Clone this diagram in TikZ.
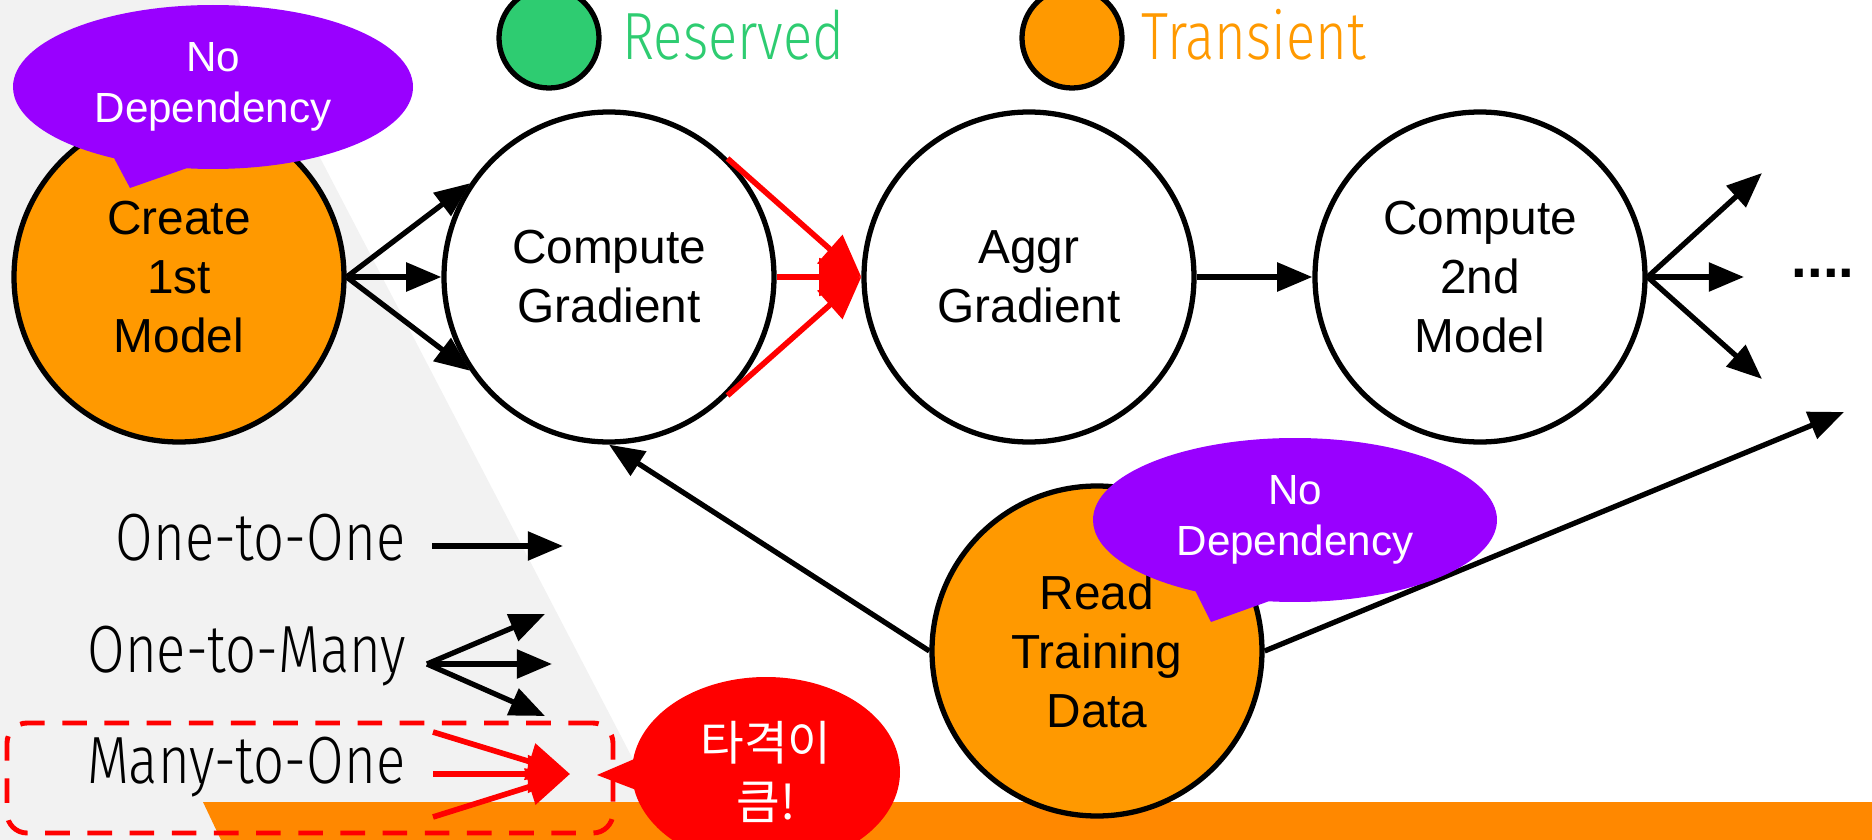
\documentclass[tikz,border=0pt]{standalone}
\usepackage{fontspec}
\setmainfont{Liberation Sans}
\newfontfamily\legendfont{Fira Sans}[UprightFont={* Light}, FakeStretch=0.815]
\newfontfamily\krfont{Noto Sans CJK KR}
\usepackage{tikz}
\usetikzlibrary{arrows.meta,shapes.callouts}
\definecolor{slideorange}{HTML}{FF9900}
\definecolor{barorange}{HTML}{FF8800}
\definecolor{resgreen}{HTML}{2ECC71}
\definecolor{bubblepurple}{HTML}{9900FF}
\definecolor{leftgray}{HTML}{F2F2F2}

\begin{document}
\begin{tikzpicture}[
  stage/.style={circle, draw=black, line width=1.5pt, fill=white,
    minimum size=3.30cm, inner sep=0pt, align=center,
    font=\fontsize{13.6}{16.8}\selectfont},
  transient/.style={stage, fill=slideorange},
  keydot/.style={circle, draw=black, line width=1.5pt, minimum size=1.0cm, inner sep=0pt},
  keytext/.style={inner sep=0pt, font=\legendfont\fontsize{19}{22}\selectfont},
  nodep/.style={ellipse callout, fill=bubblepurple, text=white, minimum width=4.0cm,
    minimum height=1.64cm, inner sep=0pt, callout pointer arc=22, align=center,
    font=\fontsize{12}{14.5}\selectfont},
  arr/.style={-{Triangle[length=10pt, width=8pt]}, line width=1.5pt},
  redarr/.style={-{Triangle[length=12pt, width=10.5pt]}, line width=1.6pt, red}
]
  \useasboundingbox (0,0) rectangle (18.72,-8.40);
  \clip (0,0) rectangle (18.72,-8.40);

  % backdrop
  \fill[leftgray] (0,0) -- (2.38,0) -- (6.75,-8.40) -- (0,-8.40) -- cycle;
  \fill[barorange] (2.03,-8.02) -- (18.72,-8.02) -- (18.72,-8.40) -- (2.21,-8.40) -- cycle;

  % key
  \node[keydot, fill=resgreen] (resdot) at (5.49,-0.38) {};
  \node[keytext, text=resgreen, anchor=base west] (restext) at (6.22,-0.60) {Reserved};
  \node[keydot, fill=slideorange] (trdot) at (10.72,-0.38) {};
  \node[keytext, text=slideorange, anchor=base west] (trtext) at (11.41,-0.60) {Transient};

  % stages
  \node[transient] (create) at (1.79,-2.77) {Create\\1st\\Model};
  \node[stage] (grad) at (6.09,-2.77) {Compute\\Gradient};
  \node[stage] (aggr) at (10.29,-2.77) {Aggr\\Gradient};
  \node[stage] (model2) at (14.80,-2.77) {Compute\\2nd\\Model};
  \node[transient] (read) at (10.97,-6.51) {Read\\Training\\Data};

  \coordinate (out1) at (17.62,-1.73);
  \coordinate (out2) at (17.44,-2.77);
  \coordinate (out3) at (17.62,-3.79);
  \coordinate (readout) at (18.44,-4.12);
  \node[font=\bfseries\fontsize{16}{16}\selectfont, anchor=base, inner sep=0pt] (dots) at (18.23,-2.77) {....};

  \draw[arr] (create.east) -- (grad.146);
  \draw[arr] (create.east) -- (grad.west);
  \draw[arr] (create.east) -- (grad.214);
  \draw[redarr] (grad.45) -- (aggr.west);
  \draw[redarr] (grad.east) -- (aggr.west);
  \draw[redarr] (grad.-45) -- (aggr.west);
  \draw[arr] (aggr.east) -- (model2.west);
  \draw[arr] (model2.east) -- (out1);
  \draw[arr] (model2.east) -- (out2);
  \draw[arr] (model2.east) -- (out3);
  \draw[arr] (read.west) -- (grad.south);
  \draw[arr] (read.east) -- (readout);

  % callouts
  \coordinate (tipA) at (1.30,-1.88);
  \coordinate (tipB) at (12.11,-6.22);
  \node[nodep, callout absolute pointer={(tipA)}] (nodepA) at (2.13,-0.87) {No\\Dependency};
  \node[nodep, minimum width=4.04cm, callout absolute pointer={(tipB)}] (nodepB) at (12.95,-5.20) {No\\Dependency};

  % arrow kinds
  \node[keytext, anchor=base east] (onetxt) at (4.06,-5.60) {One-to-One};
  \node[keytext, anchor=base east] (manytxt) at (4.07,-6.72) {One-to-Many};
  \node[keytext, anchor=base east] (m2otxt) at (4.06,-7.83) {Many-to-One};

  \coordinate (one-a) at (4.32,-5.46);
  \coordinate (one-b) at (5.63,-5.46);
  \draw[arr] (one-a) -- (one-b);

  \coordinate (fan-o) at (4.27,-6.64);
  \coordinate (fan-1) at (5.45,-6.14);
  \coordinate (fan-2) at (5.52,-6.64);
  \coordinate (fan-3) at (5.45,-7.16);
  \draw[arr] (fan-o) -- (fan-1);
  \draw[arr] (fan-o) -- (fan-2);
  \draw[arr] (fan-o) -- (fan-3);

  \coordinate (join-1) at (4.33,-7.32);
  \coordinate (join-2) at (4.33,-7.74);
  \coordinate (join-3) at (4.33,-8.17);
  \coordinate (join-o) at (5.70,-7.74);
  \draw[redarr] (join-1) -- (join-o);
  \draw[redarr] (join-2) -- (join-o);
  \draw[redarr] (join-3) -- (join-o);

  \node[draw=red, line width=1.4pt, dash pattern=on 7pt off 5pt, rounded corners=0.2cm,
    minimum width=6.06cm, minimum height=1.10cm] (m2obox) at (3.10,-7.78) {};

  \coordinate (tipC) at (5.97,-7.75);
  \node[ellipse callout, fill=red, text=white, minimum width=2.68cm, minimum height=1.90cm,
    inner sep=0pt, callout pointer arc=18, callout absolute pointer={(tipC)}, align=center,
    font=\krfont\fontsize{13.5}{17}\selectfont] (hit) at (7.66,-7.72) {타격이\\큼!};
\end{tikzpicture}
\end{document}
